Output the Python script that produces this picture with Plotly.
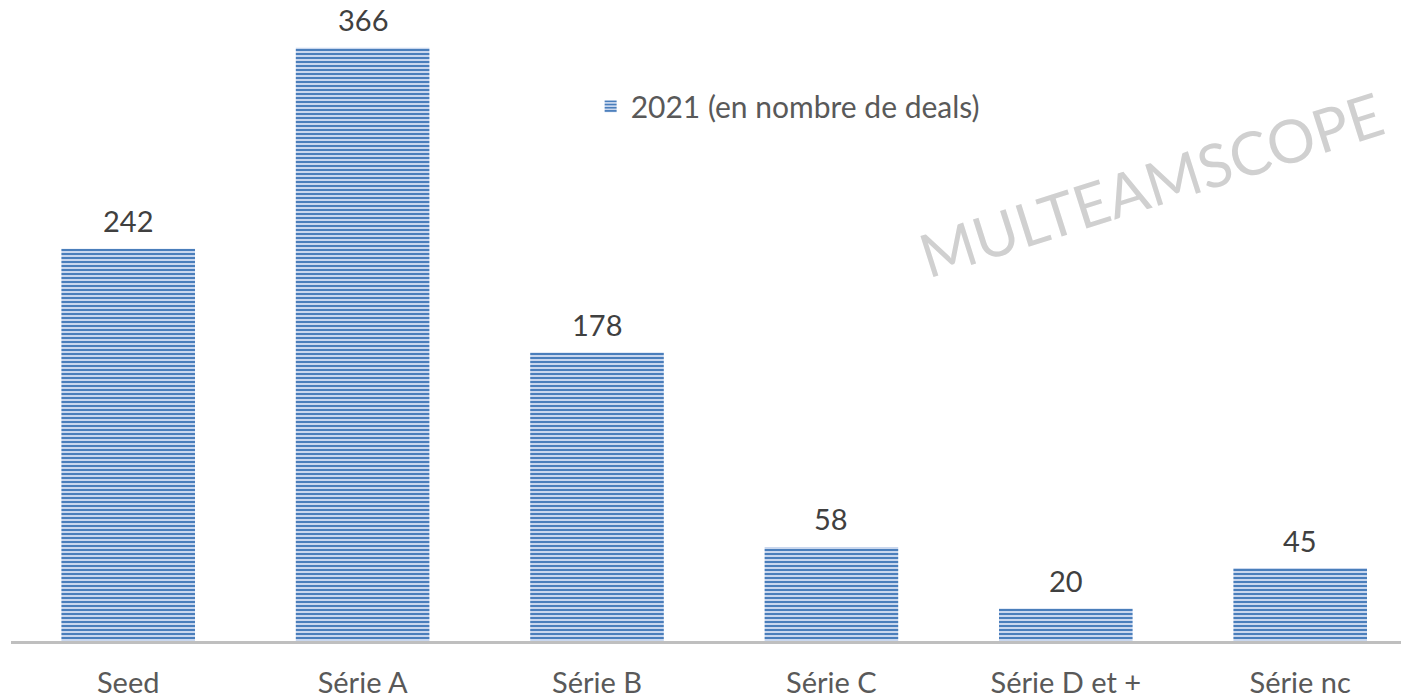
import plotly.graph_objects as go

categories = ["Seed", "Série A", "Série B", "Série C", "Série D et +", "Série nc"]
values = [242, 366, 178, 58, 20, 45]
series_name = "2021 (en nombre de deals)"

FONT = "Lato"
TXT = "#595959"

fig = go.Figure()
fig.add_trace(go.Bar(
    x=categories, y=values, name=series_name,
    width=0.57,
    marker=dict(
        color="#b4c7e7",
        line=dict(width=0),
        pattern=dict(shape="-", fgcolor="#4a7ebb", bgcolor="#c9d7ee", size=4, solidity=0.5, fillmode="replace"),
    ),
))

for c, v in zip(categories, values):
    fig.add_annotation(x=c, y=v, text=str(v), showarrow=False, yshift=28,
                       yanchor="middle", xanchor="center",
                       font=dict(size=29, color="#404040", family=FONT))

fig.update_layout(
    width=1401, height=698,
    margin=dict(l=11, r=0, t=0, b=57),
    plot_bgcolor="white", paper_bgcolor="white",
    showlegend=True,
    legend=dict(x=0.417, y=0.875, xanchor="left", yanchor="top",
                font=dict(size=30, color=TXT, family=FONT),
                bgcolor="rgba(0,0,0,0)", itemwidth=30),
    xaxis=dict(range=[-0.5, 5.43], showgrid=False, ticks="", showline=True,
               linecolor="#bfbfbf", linewidth=3, ticklabelstandoff=14,
               tickfont=dict(size=29, color=TXT, family=FONT)),
    yaxis=dict(range=[0, 395.4], showgrid=False, showticklabels=False,
               zeroline=False, showline=False, ticks=""),
)

fig.add_annotation(
    text="MULTEAMSCOPE", xref="paper", yref="paper",
    x=(1151 - 11) / 1390, y=1 - 184 / 641, xanchor="center", yanchor="middle",
    showarrow=False,
    textangle=-17.6, font=dict(size=60, color="#d0d0d0", family=FONT),
)

fig.write_html("out.html", post_script="document.body.style.margin='0';",
               config={"displayModeBar": False})
